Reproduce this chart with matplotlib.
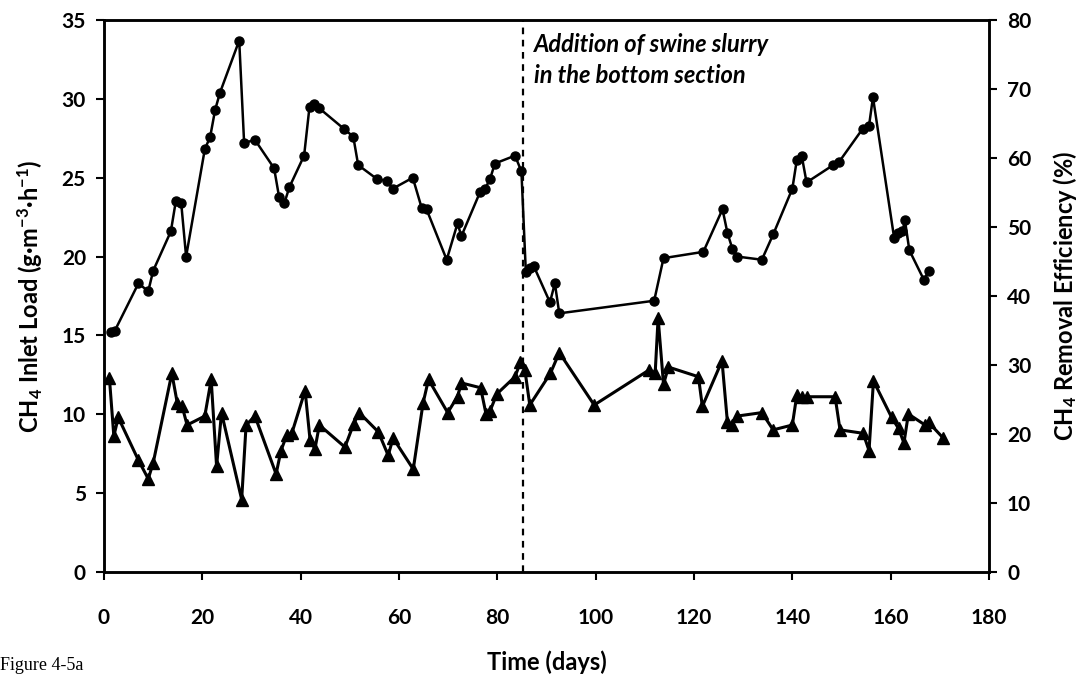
import matplotlib
matplotlib.use("Agg")
import matplotlib.pyplot as plt

# CH4 inlet load (circles, left axis, g m-3 h-1)
load_days = [1.5, 2.2, 7.0, 9.0, 10.0, 13.6, 14.6, 15.7, 16.7, 20.5, 21.6, 22.6, 23.6,
             27.5, 28.5, 30.7, 34.6, 35.6, 36.7, 37.7, 40.7, 41.8, 42.8, 43.8, 48.8,
             50.7, 51.7, 55.6, 57.6, 58.7, 62.8, 64.6, 65.6, 69.7, 71.9, 72.7, 76.5,
             77.5, 78.5, 79.5, 83.6, 84.9, 85.8, 86.6, 87.4, 90.7, 91.7, 92.6, 111.9,
             113.8, 121.9, 125.8, 126.8, 127.8, 128.8, 133.8, 136.1, 140.0, 140.9,
             141.9, 142.9, 148.3, 149.5, 154.3, 155.6, 156.4, 160.7, 161.5, 162.4,
             162.9, 163.8, 166.8, 167.7]
load_vals = [15.2, 15.3, 18.3, 17.8, 19.1, 21.6, 23.5, 23.4, 20.0, 26.8, 27.6, 29.3, 30.4,
             33.7, 27.2, 27.4, 25.6, 23.8, 23.4, 24.4, 26.4, 29.5, 29.7, 29.4, 28.1,
             27.6, 25.8, 24.9, 24.8, 24.3, 25.0, 23.1, 23.0, 19.8, 22.1, 21.3, 24.1,
             24.3, 24.9, 25.9, 26.4, 25.4, 19.0, 19.3, 19.4, 17.1, 18.3, 16.4, 17.2,
             19.9, 20.3, 23.0, 21.5, 20.5, 20.0, 19.8, 21.4, 24.3, 26.1,
             26.4, 24.7, 25.8, 26.0, 28.1, 28.3, 30.1, 21.2, 21.5, 21.6,
             22.3, 20.4, 18.5, 19.1]

# CH4 removal efficiency (triangles, right axis, %)
re_days = [1.1, 2.0, 2.9, 7.0, 9.0, 10.0, 13.8, 14.9, 15.9, 16.9, 20.5, 21.8, 22.9, 23.9,
           28.0, 28.9, 30.7, 35.0, 36.0, 37.2, 38.2, 40.9, 41.9, 42.9, 43.8, 49.0,
           50.8, 51.9, 55.8, 57.8, 58.8, 62.9, 64.9, 66.0, 69.9, 71.9, 72.7, 76.6,
           77.7, 78.5, 79.9, 83.6, 84.7, 85.6, 86.6, 90.8, 92.6, 99.7, 110.9, 112.1,
           112.7, 113.8, 114.8, 120.9, 121.7, 125.7, 126.8, 127.8, 128.8, 133.8,
           136.1, 140.0, 140.9, 141.9, 142.9, 148.7, 149.7, 154.4, 155.6, 156.5,
           160.2, 161.6, 162.7, 163.6, 167.0, 167.7, 170.7]
re_vals = [28.1, 19.7, 22.4, 16.2, 13.5, 15.8, 28.8, 24.5, 24.0, 21.3, 22.6, 27.9, 15.3, 23.1,
           10.5, 21.3, 22.6, 14.2, 17.6, 19.9, 20.1, 26.3, 19.2, 17.8, 21.3, 18.1,
           21.5, 23.1, 20.3, 16.9, 19.4, 14.9, 24.5, 27.9, 23.1, 25.4, 27.4, 26.7,
           22.9, 23.3, 25.8, 28.3, 30.4, 29.3, 24.2, 28.8, 31.8, 24.2, 29.3, 28.8,
           36.8, 27.2, 29.7, 28.3, 24.0, 30.6, 21.7, 21.3, 22.6, 23.1,
           20.6, 21.3, 25.6, 25.4, 25.4, 25.4, 20.6, 20.1, 17.6, 27.7,
           22.4, 20.8, 18.7, 22.9, 21.3, 21.7, 19.4]

slurry_day = 85.3
annotation = "Addition of swine slurry\nin the bottom section"

plt.rcParams['font.family'] = ['Lato', 'DejaVu Sans']
plt.rcParams['mathtext.fontset'] = 'custom'
plt.rcParams['mathtext.rm'] = 'Lato:bold'
plt.rcParams['mathtext.bf'] = 'Lato:bold'
plt.rcParams['mathtext.it'] = 'Lato:bold:italic'

fig = plt.figure(figsize=(10.91, 6.76), dpi=100)
ax = fig.add_axes([104/1091, 1 - 572/676, (989-104)/1091, (572-20)/676])
ax2 = ax.twinx()

ax.plot(load_days, load_vals, color='black', lw=1.8, marker='o', ms=6.5, zorder=3)
ax2.plot(re_days, re_vals, color='black', lw=2.2, marker='^', ms=8, zorder=3)

ax.axvline(slurry_day, color='black', lw=1.6, ls=(0, (3, 2.5)), zorder=2)

ax.set_xlim(0, 180)
ax.set_ylim(0, 35)
ax2.set_ylim(0, 80)
ax.set_xticks(range(0, 181, 20))
ax.set_yticks(range(0, 36, 5))
ax2.set_yticks(range(0, 81, 10))

for a in (ax, ax2):
    for s in a.spines.values():
        s.set_linewidth(1.8)
    a.tick_params(direction='out', length=6, width=1.5, labelsize=15, pad=7)
for lab in ax.get_xticklabels() + ax.get_yticklabels() + ax2.get_yticklabels():
    lab.set_fontweight('bold')
ax.tick_params(axis='x', pad=20)

ax.set_xlabel('Time (days)', fontsize=17, fontweight='bold', labelpad=16)
ax.set_ylabel(r'CH$_4$ Inlet Load (g·m$^{-3}$·h$^{-1}$)', fontsize=17, fontweight='bold', labelpad=12)
ax2.set_ylabel(r'CH$_4$ Removal Efficiency (%)', fontsize=17, fontweight='bold', labelpad=14)

ax.text(87.5, 34.2, annotation, fontsize=17, fontweight='bold', fontstyle='italic',
        va='top', ha='left', linespacing=1.45)

fig.text(0.0, 0.003, 'Figure 4-5a', fontsize=13, family='Liberation Serif', ha='left', va='bottom')

fig.savefig('out.png', dpi=100)
